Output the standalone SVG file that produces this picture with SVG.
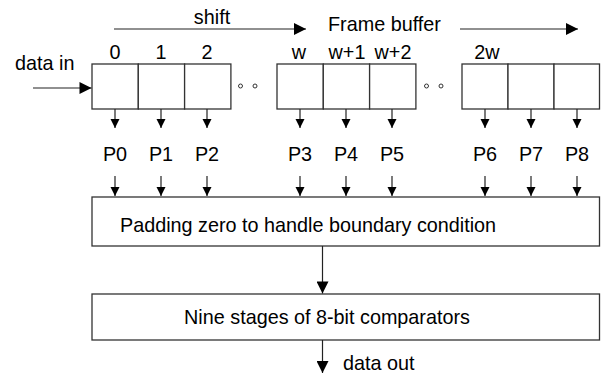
<svg xmlns="http://www.w3.org/2000/svg" width="601" height="375" viewBox="0 0 601 375">
  <style>
    text { font-family: "Liberation Sans", Arial, sans-serif; font-size: 19.8px; fill: #000; }
    .cell { fill: #fff; stroke: #333; stroke-width: 1.3; }
    .box { fill: #fff; stroke: #333; stroke-width: 1.3; }
    .ln { stroke: #222; stroke-width: 1.2; fill: none; }
    .dot { fill: none; stroke: #333; stroke-width: 1; }
  </style>
  <defs>
    <marker id="big" viewBox="0 0 10 10" refX="10" refY="5" markerWidth="16" markerHeight="12" markerUnits="userSpaceOnUse" orient="auto">
      <path d="M0,0 L10,5 L0,10 Z" fill="#000"/>
    </marker>
    <marker id="small" viewBox="0 0 10 10" refX="10" refY="5" markerWidth="9" markerHeight="10" markerUnits="userSpaceOnUse" orient="auto">
      <path d="M0,0 L10,5 L0,10 Z" fill="#000"/>
    </marker>
  </defs>

  <rect width="601" height="375" fill="#fff"/>

  <!-- headings -->
  <text x="212" y="24" text-anchor="middle">shift</text>
  <text x="328" y="31">Frame buffer</text>
  <text x="15" y="70">data in</text>

  <!-- frame buffer cells, first row segment -->
  <g id="row0">
    <rect class="cell" x="92" y="64" width="46.3" height="45"/>
    <rect class="cell" x="138.3" y="64" width="46.3" height="45"/>
    <rect class="cell" x="184.6" y="64" width="46.3" height="45"/>
    <text x="115" y="59" text-anchor="middle">0</text>
    <text x="161" y="59" text-anchor="middle">1</text>
    <text x="207" y="59" text-anchor="middle">2</text>
  </g>
  <g id="row1">
    <rect class="cell" x="277" y="64" width="46.3" height="45"/>
    <rect class="cell" x="323.3" y="64" width="46.3" height="45"/>
    <rect class="cell" x="369.6" y="64" width="46.3" height="45"/>
    <text x="299" y="59" text-anchor="middle">w</text>
    <text x="347" y="59" text-anchor="middle">w+1</text>
    <text x="393" y="59" text-anchor="middle">w+2</text>
  </g>
  <g id="row2">
    <rect class="cell" x="462" y="64" width="46" height="45"/>
    <rect class="cell" x="508" y="64" width="46" height="45"/>
    <rect class="cell" x="554" y="64" width="45.5" height="45"/>
    <text x="487" y="59" text-anchor="middle">2w</text>
  </g>

  <!-- continuation dots -->
  <circle class="dot" cx="240.5" cy="86" r="2"/>
  <circle class="dot" cx="255" cy="86" r="2"/>
  <circle class="dot" cx="426.5" cy="86" r="2"/>
  <circle class="dot" cx="441" cy="86" r="2"/>

  <!-- pixel taps -->
  <g id="taps">
    <text x="115" y="161" text-anchor="middle">P0</text>
    <text x="161" y="161" text-anchor="middle">P1</text>
    <text x="207" y="161" text-anchor="middle">P2</text>
    <text x="300" y="161" text-anchor="middle">P3</text>
    <text x="346" y="161" text-anchor="middle">P4</text>
    <text x="392" y="161" text-anchor="middle">P5</text>
    <text x="485" y="161" text-anchor="middle">P6</text>
    <text x="531" y="161" text-anchor="middle">P7</text>
    <text x="577" y="161" text-anchor="middle">P8</text>
  </g>

  <g id="padding">
    <rect class="box" x="92" y="197" width="507.5" height="49"/>
    <text x="120" y="232">Padding zero to handle boundary condition</text>
  </g>

  <g id="comparators">
    <rect class="box" x="92" y="294" width="507.5" height="46"/>
    <text x="327" y="324" text-anchor="middle">Nine stages of 8-bit comparators</text>
  </g>

  <text x="343" y="370">data out</text>

  <!-- connectors -->
  <g id="connectors">
    <line class="ln" x1="114" y1="29" x2="306" y2="29" marker-end="url(#big)"/>
    <line class="ln" x1="460" y1="29" x2="578" y2="29" marker-end="url(#big)"/>
    <line class="ln" x1="33" y1="88" x2="91.5" y2="88" marker-end="url(#big)"/>

    <line class="ln" x1="115" y1="109" x2="115" y2="128" marker-end="url(#small)"/>
    <line class="ln" x1="161" y1="109" x2="161" y2="128" marker-end="url(#small)"/>
    <line class="ln" x1="207" y1="109" x2="207" y2="128" marker-end="url(#small)"/>
    <line class="ln" x1="300" y1="109" x2="300" y2="128" marker-end="url(#small)"/>
    <line class="ln" x1="346" y1="109" x2="346" y2="128" marker-end="url(#small)"/>
    <line class="ln" x1="392" y1="109" x2="392" y2="128" marker-end="url(#small)"/>
    <line class="ln" x1="485" y1="109" x2="485" y2="128" marker-end="url(#small)"/>
    <line class="ln" x1="531" y1="109" x2="531" y2="128" marker-end="url(#small)"/>
    <line class="ln" x1="577" y1="109" x2="577" y2="128" marker-end="url(#small)"/>

    <line class="ln" x1="115" y1="176" x2="115" y2="196" marker-end="url(#small)"/>
    <line class="ln" x1="161" y1="176" x2="161" y2="196" marker-end="url(#small)"/>
    <line class="ln" x1="207" y1="176" x2="207" y2="196" marker-end="url(#small)"/>
    <line class="ln" x1="300" y1="176" x2="300" y2="196" marker-end="url(#small)"/>
    <line class="ln" x1="346" y1="176" x2="346" y2="196" marker-end="url(#small)"/>
    <line class="ln" x1="392" y1="176" x2="392" y2="196" marker-end="url(#small)"/>
    <line class="ln" x1="485" y1="176" x2="485" y2="196" marker-end="url(#small)"/>
    <line class="ln" x1="531" y1="176" x2="531" y2="196" marker-end="url(#small)"/>
    <line class="ln" x1="577" y1="176" x2="577" y2="196" marker-end="url(#small)"/>

    <line class="ln" x1="322.5" y1="246" x2="322.5" y2="293.5" marker-end="url(#big)"/>
    <line class="ln" x1="322.5" y1="340" x2="322.5" y2="373" marker-end="url(#big)"/>
  </g>
</svg>
